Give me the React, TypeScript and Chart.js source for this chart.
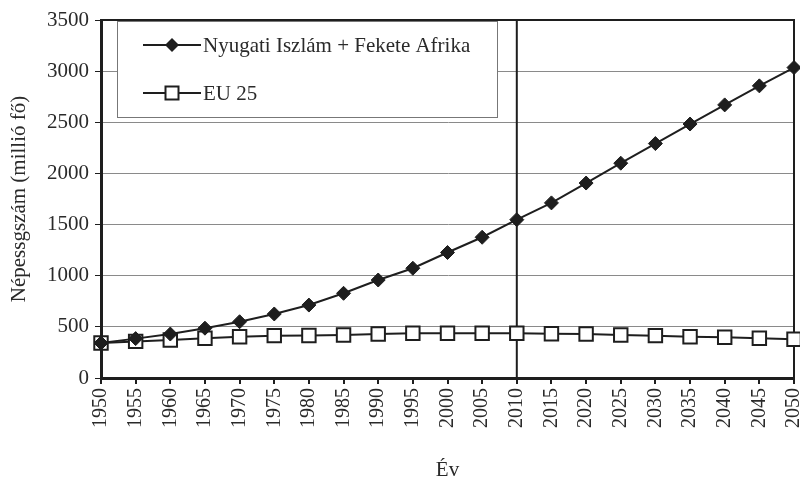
import React, { useEffect, useRef } from "react";
import { Chart, registerables } from "chart.js";

Chart.register(...registerables);

const years = ["1950","1955","1960","1965","1970","1975","1980","1985","1990","1995","2000","2005","2010","2015","2020","2025","2030","2035","2040","2045","2050"];
const islamAfrica = [342, 385, 430, 487, 550, 626, 713, 828, 958, 1073, 1227, 1376, 1548, 1712, 1906, 2100, 2292, 2483, 2670, 2856, 3035];
const eu25 = [342, 358, 371, 388, 404, 414, 416, 420, 430, 437, 437, 437, 437, 432, 430, 420, 414, 404, 398, 388, 378];
const seriesNames = ["Nyugati Iszlám + Fekete Afrika", "EU 25"];
const markerYear = "2010";
const yMin = 0;
const yMax = 3500;
const yStep = 500;
const yTitle = "Népessgszám (millió fő)";
const xTitle = "Év";

const FONT = "'Liberation Serif', 'Times New Roman', serif";
const INK = "#1e1e1e";
const TXT = "#2a2a2a";

const framePlugin = {
  id: "frame",
  beforeDatasetsDraw(chart: any) {
    const { ctx, chartArea, scales } = chart;
    ctx.save();
    ctx.strokeStyle = INK;
    ctx.lineWidth = 2;
    ctx.beginPath();
    ctx.moveTo(chartArea.left, chartArea.top);
    ctx.lineTo(chartArea.right, chartArea.top);
    ctx.lineTo(chartArea.right, chartArea.bottom);
    ctx.stroke();
    const idx = years.indexOf(markerYear);
    const x = scales.x.getPixelForValue(idx);
    ctx.beginPath();
    ctx.moveTo(x, chartArea.top);
    ctx.lineTo(x, chartArea.bottom);
    ctx.stroke();
    ctx.restore();
  },
};

const legendPlugin = {
  id: "boxLegend",
  afterDraw(chart: any) {
    const { ctx, chartArea } = chart;
    const left = chartArea.left + 16;
    const top = chartArea.top + 1;
    const w = 380;
    const h = 96;
    ctx.save();
    ctx.fillStyle = "#ffffff";
    ctx.fillRect(left, top, w, h);
    ctx.strokeStyle = "#777";
    ctx.lineWidth = 1;
    ctx.strokeRect(left + 0.5, top + 0.5, w, h);
    const rows = [top + 24, top + 72];
    rows.forEach((y, i) => {
      ctx.strokeStyle = INK;
      ctx.lineWidth = 2;
      ctx.beginPath();
      ctx.moveTo(left + 26, y);
      ctx.lineTo(left + 84, y);
      ctx.stroke();
      const cx = left + 55;
      if (i === 0) {
        ctx.fillStyle = INK;
        ctx.beginPath();
        ctx.moveTo(cx, y - 7);
        ctx.lineTo(cx + 7, y);
        ctx.lineTo(cx, y + 7);
        ctx.lineTo(cx - 7, y);
        ctx.closePath();
        ctx.fill();
      } else {
        ctx.fillStyle = "#fff";
        ctx.fillRect(cx - 6.5, y - 6.5, 13, 13);
        ctx.strokeRect(cx - 6.5, y - 6.5, 13, 13);
      }
      ctx.fillStyle = TXT;
      ctx.font = `21px ${FONT}`;
      ctx.textBaseline = "middle";
      ctx.textAlign = "left";
      ctx.fillText(seriesNames[i], left + 86, y + 1);
    });
    ctx.restore();
  },
};

export default function App() {
  const ref = useRef<HTMLCanvasElement | null>(null);
  useEffect(() => {
    document.body.style.margin = "0";
    const canvas = ref.current;
    if (!canvas) return;
    const chart = new Chart(canvas, {
      type: "line",
      data: {
        labels: years,
        datasets: [
          {
            label: seriesNames[0],
            data: islamAfrica,
            borderColor: INK,
            borderWidth: 2,
            pointStyle: "rectRot",
            pointRadius: 7,
            pointBackgroundColor: INK,
            pointBorderColor: INK,
            pointBorderWidth: 1,
            tension: 0,
            clip: false,
          },
          {
            label: seriesNames[1],
            data: eu25,
            borderColor: INK,
            borderWidth: 2,
            pointStyle: "rect",
            pointRadius: 9.5,
            pointBackgroundColor: "#ffffff",
            pointBorderColor: INK,
            pointBorderWidth: 2,
            tension: 0,
            clip: false,
          },
        ],
      },
      options: {
        responsive: false,
        animation: false,
        layout: { autoPadding: false, padding: { top: 20, right: 6, left: 0, bottom: 0 } },
        plugins: { legend: { display: false }, tooltip: { enabled: false } },
        scales: {
          x: {
            type: "category",
            offset: false,
            grid: { drawOnChartArea: false, drawTicks: true, tickLength: 6, tickColor: INK, lineWidth: 2 },
            border: { display: true, color: INK, width: 3 },
            ticks: { autoSkip: false, maxRotation: 90, minRotation: 90, color: TXT, font: { family: FONT, size: 20 }, padding: 4 },
            title: { display: true, text: xTitle, color: TXT, font: { family: FONT, size: 21 }, padding: { top: 1, bottom: 1 } },
            afterFit: (s: any) => { s.height = 106; s.paddingRight = 0; s.paddingLeft = 0; },
          },
          y: {
            min: yMin,
            max: yMax,
            ticks: { stepSize: yStep, color: TXT, font: { family: FONT, size: 21 }, padding: 6, callback: (v: any) => String(v) },
            grid: { color: "#8a8a8a", lineWidth: 1, tickLength: 6, tickColor: INK },
            border: { display: true, color: INK, width: 3 },
            title: { display: true, text: yTitle, color: TXT, font: { family: FONT, size: 21 }, padding: { top: 7, bottom: 4 } },
            afterFit: (s: any) => { s.width = 101; },
          },
        },
      },
      plugins: [framePlugin, legendPlugin],
    } as any);
    return () => chart.destroy();
  }, []);
  return <canvas ref={ref} width={800} height={484} style={{ display: "block" }} />;
}
